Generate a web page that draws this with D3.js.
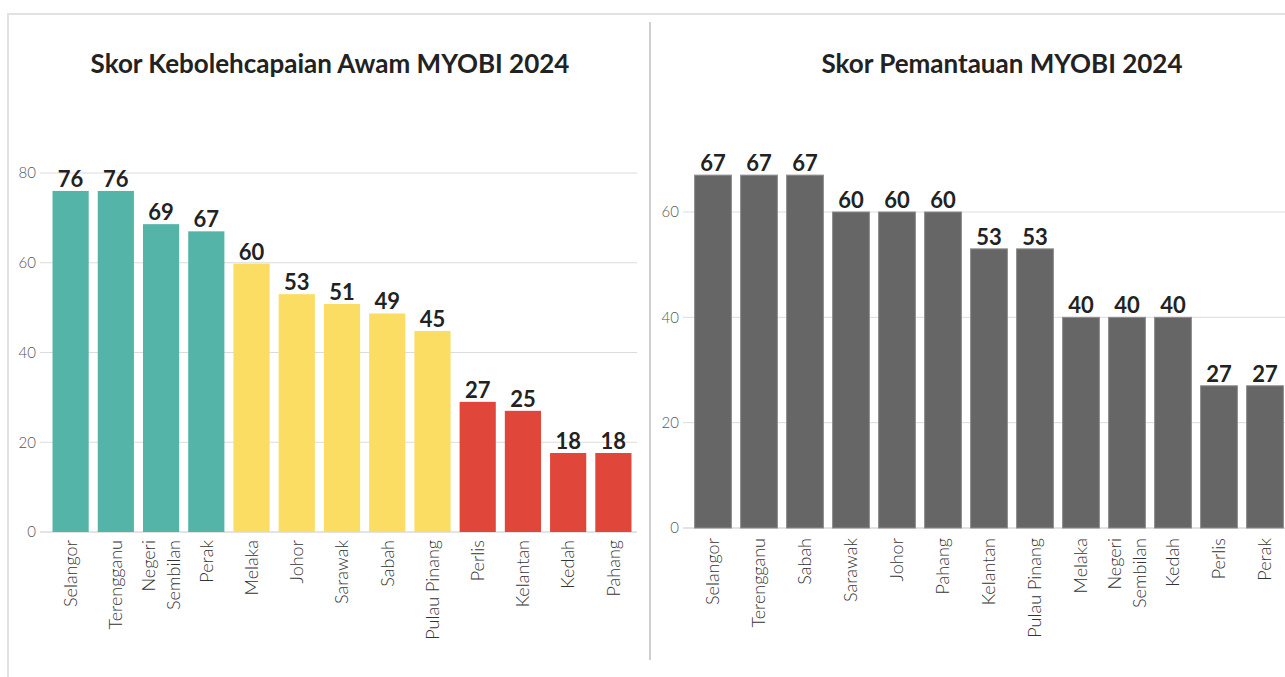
<!DOCTYPE html>
<html>
<head>
<meta charset="utf-8">
<script src="https://cdn.jsdelivr.net/npm/d3@7"></script>
<style>
  body { margin: 0; background: #fff; }
  svg { display: block; font-family: Lato, "Open Sans", sans-serif; }
</style>
</head>
<body>
<div id="chart"></div>
<script>
let width = 1285;
let height = 677;

// left chart data
let statesA = ["Selangor", "Terengganu", "Negeri Sembilan", "Perak", "Melaka", "Johor", "Sarawak", "Sabah", "Pulau Pinang", "Perlis", "Kelantan", "Kedah", "Pahang"];
let barsA = [76, 76, 68.6, 67, 59.8, 53, 50.8, 48.7, 44.8, 29, 27, 17.6, 17.6];
let labelsA = [76, 76, 69, 67, 60, 53, 51, 49, 45, 27, 25, 18, 18];
let groupA = ["hi", "hi", "hi", "hi", "mid", "mid", "mid", "mid", "mid", "lo", "lo", "lo", "lo"];
let ticksA = [0, 20, 40, 60, 80];

// right chart data
let statesB = ["Selangor", "Terengganu", "Sabah", "Sarawak", "Johor", "Pahang", "Kelantan", "Pulau Pinang", "Melaka", "Negeri Sembilan", "Kedah", "Perlis", "Perak"];
let valuesB = [67, 67, 67, 60, 60, 60, 53, 53, 40, 40, 40, 27, 27];
let ticksB = [0, 20, 40, 60];

let groupColor = {hi: "#55b4a8", mid: "#fbdd63", lo: "#e1463a"};

let svg = d3.select("#chart").append("svg")
    .attr("width", width)
    .attr("height", height);

// frame
svg.append("line").attr("x1", 7).attr("x2", width).attr("y1", 14).attr("y2", 14)
    .attr("stroke", "#e2e2e2").attr("stroke-width", 2);
svg.append("line").attr("x1", 8).attr("x2", 8).attr("y1", 14).attr("y2", height)
    .attr("stroke", "#e2e2e2").attr("stroke-width", 2);
svg.append("line").attr("x1", 650).attr("x2", 650).attr("y1", 22).attr("y2", 660)
    .attr("stroke", "#cfcfcf").attr("stroke-width", 2);

function drawChart(cfg) {
    let g = svg.append("g");

    let x = d3.scaleBand()
        .domain(cfg.states)
        .range(cfg.xRange)
        .paddingInner(0.2)
        .paddingOuter(0.1);

    let y = d3.scaleLinear()
        .domain(cfg.yDomain)
        .range(cfg.yRange);

    g.append("text")
        .attr("x", cfg.titleX)
        .attr("y", 73)
        .attr("text-anchor", "middle")
        .attr("font-size", 26)
        .attr("font-weight", "bold")
        .attr("fill", "#222")
        .text(cfg.title);

    // grid + tick labels
    let yAxis = g.append("g")
        .attr("transform", `translate(${cfg.gridX[0]},0)`)
        .call(d3.axisLeft(y).tickValues(cfg.ticks).tickSize(0).tickPadding(4))
        .call(a => a.select(".domain").remove());
    yAxis.selectAll("text")
        .attr("font-family", "Lato, sans-serif")
        .attr("font-size", 15)
        .attr("font-weight", 300)
        .attr("fill", "#555");

    g.append("g")
        .selectAll("line")
        .data(cfg.ticks)
        .join("line")
        .attr("x1", cfg.gridX[0])
        .attr("x2", cfg.gridX[1])
        .attr("y1", d => y(d))
        .attr("y2", d => y(d))
        .attr("stroke", d => d === 0 ? "#c8c8c8" : "#dcdcdc")
        .attr("stroke-width", 1);

    g.append("g")
        .selectAll("rect")
        .data(cfg.values)
        .join("rect")
        .attr("x", (d, i) => x(cfg.states[i]))
        .attr("y", d => y(d))
        .attr("width", x.bandwidth())
        .attr("height", d => y(0) - y(d))
        .attr("fill", (d, i) => cfg.color(i))
        .attr("stroke", cfg.stroke)
        .attr("stroke-width", cfg.stroke === "none" ? 0 : 1);

    g.append("g")
        .selectAll("text")
        .data(cfg.values)
        .join("text")
        .attr("x", (d, i) => x(cfg.states[i]) + x.bandwidth() / 2)
        .attr("y", d => y(d) - 4)
        .attr("text-anchor", "middle")
        .attr("font-size", 22)
        .attr("font-weight", "bold")
        .attr("fill", "#222")
        .text((d, i) => cfg.labels[i]);

    // category labels, rotated
    let cats = g.append("g")
        .selectAll("text")
        .data(cfg.states)
        .join("text")
        .attr("transform", d => `translate(${x(d) + x.bandwidth() / 2},${cfg.labelY}) rotate(-90)`)
        .attr("text-anchor", "end")
        .attr("font-size", 18)
        .attr("font-weight", 300)
        .attr("fill", "#333");

    cats.each(function(d) {
        let words = d === "Negeri Sembilan" ? ["Negeri", "Sembilan"] : [d];
        let t = d3.select(this);
        words.forEach((w, k) => {
            let dy = words.length === 1 ? 0.35 : (k === 0 ? -0.35 : 1.05);
            t.append("tspan")
                .attr("x", 0)
                .attr("y", 0)
                .attr("dy", dy + "em")
                .text(w);
        });
    });
}

drawChart({
    title: "Skor Kebolehcapaian Awam MYOBI 2024",
    titleX: 330,
    states: statesA,
    values: barsA,
    labels: labelsA,
    color: i => groupColor[groupA[i]],
    stroke: "none",
    xRange: [48, 636],
    yDomain: [0, 80],
    yRange: [532, 173],
    ticks: ticksA,
    gridX: [40, 637],
    labelY: 540
});

drawChart({
    title: "Skor Pemantauan MYOBI 2024",
    titleX: 1002,
    states: statesB,
    values: valuesB,
    labels: valuesB,
    color: i => "#666666",
    stroke: "#8c8c8c",
    xRange: [690, 1288],
    yDomain: [0, 60],
    yRange: [528, 212],
    ticks: ticksB,
    gridX: [683, 1285],
    labelY: 538
});
</script>
</body>
</html>
